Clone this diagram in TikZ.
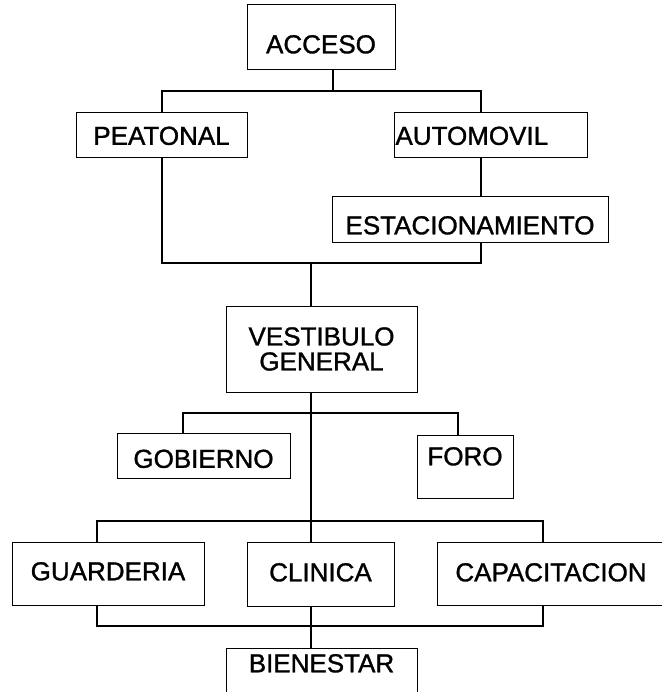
\documentclass[tikz,border=0pt]{standalone}
\usepackage{fontspec}
\setmainfont{Liberation Sans}[BoldFont=Liberation Sans, BoldFeatures={FakeBold=1.2}]
\usetikzlibrary{backgrounds}
\begin{document}
\begin{tikzpicture}[x=1pt,y=1pt,
  box/.style={draw, fill=white, line width=1pt, inner sep=0pt, font=\fontsize{26}{25}\selectfont\bfseries},
  link/.style={line width=1.6pt}]
\useasboundingbox (0,0) rectangle (661,-692);
% nodes
\node[box, minimum width=148, minimum height=65, text height=31.6pt, text depth=0pt] (acceso) at (321,-37.5) {ACCESO};
\node[box, minimum width=171, minimum height=45, text height=18.6pt, text depth=0pt] (peatonal) at (161.5,-135.5) {PEATONAL};
\node[box, minimum height=45, text width=190pt, inner xsep=1.5pt, align=left, text height=18.6pt, text depth=0pt] (automovil) at (490.5,-135.5) {AUTOMOVIL};
\node[box, minimum width=276, minimum height=46, text height=28.6pt, text depth=0pt] (estac) at (470,-220) {ESTACIONAMIENTO};
\node[box, minimum width=191, minimum height=86, align=center] (vest) at (321.5,-349) {VESTIBULO\\GENERAL};
\node[box, minimum width=173, minimum height=45, text height=24.6pt, text depth=0pt] (gob) at (203.5,-455.5) {GOBIERNO};
\node[box, minimum width=96, minimum height=63, text height=18.6pt, text depth=21pt] (foro) at (465,-466.5) {FORO};
\node[box, minimum width=192, minimum height=63, text height=18.6pt, text depth=5pt] (guard) at (108,-573.5) {GUARDERIA};
\node[box, minimum width=147, minimum height=64, text height=18.6pt, text depth=4pt] (clin) at (320.5,-574) {CLINICA};
\node[box, minimum width=228, minimum height=63, text height=18.6pt, text depth=3pt] (cap) at (551,-573.5) {CAPACITACION};
\node[box, minimum width=191, minimum height=52, text height=18.6pt, text depth=22pt] (bien) at (321.5,-674) {BIENESTAR};
% junctions
\coordinate (a1) at (333,-91);
\coordinate (tl) at (162,-91);
\coordinate (tr) at (481,-91);
\coordinate (br) at (481,-263);
\coordinate (bl) at (162,-263);
\coordinate (jm) at (311,-263);
\coordinate (g1) at (183,-413);
\coordinate (g2) at (458,-413);
\coordinate (b1) at (97,-521);
\coordinate (b2) at (543,-521);
\coordinate (b3) at (543,-626);
\coordinate (b4) at (97,-626);
\begin{pgfonlayer}{background}
\draw[link] ([xshift=12pt]acceso.south) -- (a1);
\draw[link] (tl) -- (tr) -- (br) -- (bl) -- cycle;
\draw[link] (peatonal.north -| tl) -- (peatonal.south -| tl);
\draw[link] (automovil.south -| tr) -- (estac.north -| tr);
\draw[link] (jm) -- (vest.north -| jm);
\draw[link] (vest.south -| jm) -- (clin.north -| jm);
\draw[link] (gob.north -| g1) -- (g1) -- (g2) -- (foro.north -| g2);
\draw[link] (b1) -- (b2) -- (b3) -- (b4) -- cycle;
\draw[link] (clin.south -| jm) -- (bien.north -| jm);
\end{pgfonlayer}
\end{tikzpicture}
\end{document}
